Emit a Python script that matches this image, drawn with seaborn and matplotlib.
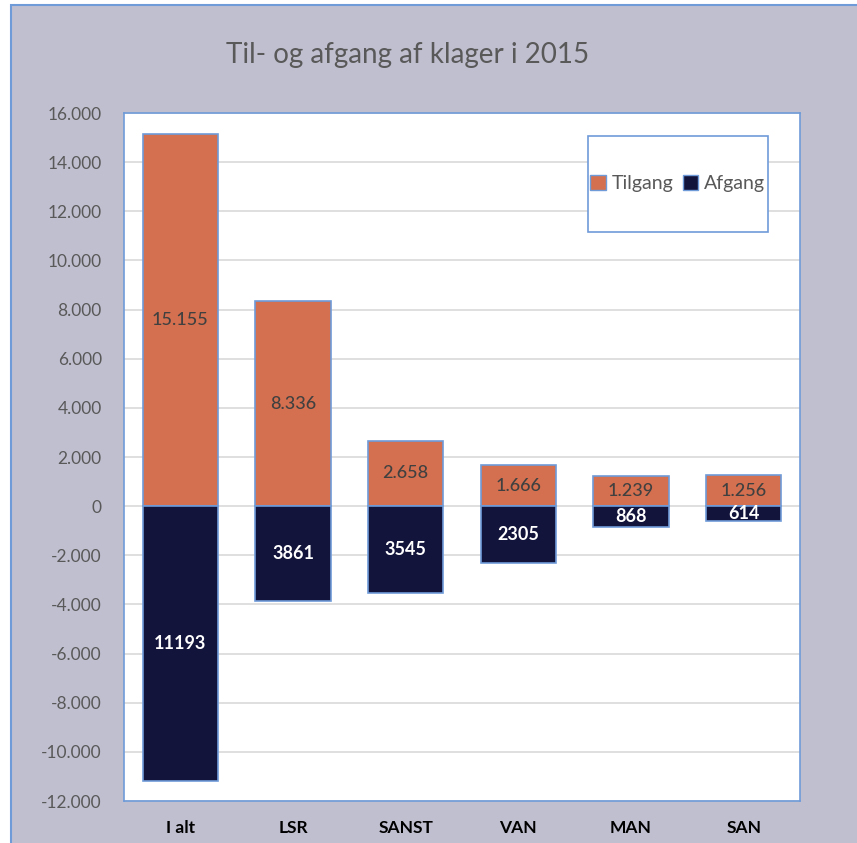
import pandas as pd
import matplotlib.pyplot as plt
import seaborn as sns
from matplotlib.patches import Rectangle
from matplotlib.ticker import FuncFormatter

# data
categories = ["I alt", "LSR", "SANST", "VAN", "MAN", "SAN"]
tilgang = [15155, 8336, 2658, 1666, 1239, 1256]
afgang = [11193, 3861, 3545, 2305, 868, 614]

ORANGE = "#d4704f"
NAVY = "#13143b"
EDGE = "#6f9bd8"
GREY_TXT = "#595959"

sns.set_theme(style="white")
plt.rcParams['font.family'] = ['Lato', 'DejaVu Sans']

df = pd.DataFrame({
    "kategori": categories * 2,
    "antal": tilgang + [-v for v in afgang],
    "type": ["Tilgang"] * len(categories) + ["Afgang"] * len(categories),
})

fig = plt.figure(figsize=(8.57, 8.43), dpi=100)
fig.patch.set_facecolor("white")
# grey chart frame (behind the axes)
fig.patches.append(Rectangle((11 / 857, -0.02), 1.05, 1 - 5 / 843 + 0.02,
                             transform=fig.transFigure, facecolor="#c0bfd0",
                             edgecolor=EDGE, linewidth=1.5, zorder=-5))

ax = fig.add_axes([124 / 857, 1 - 801 / 843, 676 / 857, 688 / 843])
ax.set_facecolor("white")

sns.barplot(data=df, x="kategori", y="antal", hue="type", dodge=False,
            palette={"Tilgang": ORANGE, "Afgang": NAVY}, width=0.67,
            saturation=1, edgecolor=EDGE, linewidth=1.2, ax=ax,
            legend=False, zorder=3)

ax.set_ylim(-12000, 16000)
ax.set_xlim(-0.5, 5.5)
ax.set_yticks(range(-12000, 16001, 2000))
ax.yaxis.set_major_formatter(FuncFormatter(lambda v, p: f"{int(v):,}".replace(",", ".")))
ax.grid(axis="y", color="#d9d9d9", linewidth=1.2, zorder=0)
ax.set_axisbelow(True)
for s in ax.spines.values():
    s.set_color(EDGE)
    s.set_linewidth(1.2)
ax.tick_params(axis="both", length=0)
ax.tick_params(axis="y", labelsize=12.5, labelcolor=GREY_TXT, pad=16)
ax.tick_params(axis="x", labelsize=12.5, pad=14)
for lbl in ax.get_xticklabels():
    lbl.set_fontweight("bold")
    lbl.set_color("black")
ax.set_xlabel("")
ax.set_ylabel("")

# value labels in the middle of each bar
for i, (t, a) in enumerate(zip(tilgang, afgang)):
    ax.text(i, t / 2, f"{t:,}".replace(",", "."), ha="center", va="center",
            fontsize=13, color="#404040", fontweight="medium", zorder=5)
    ax.text(i, -a / 2, str(a), ha="center", va="center",
            fontsize=13, color="white", fontweight="bold", zorder=5)

fig.text(408 / 857, 1 - 55 / 843, "Til- og afgang af klager i 2015",
         ha="center", va="center", fontsize=20, color=GREY_TXT)

# legend box
box = Rectangle((0.686, 0.827), 0.266, 0.1396, transform=ax.transAxes,
                facecolor="white", edgecolor=EDGE, linewidth=1.2, zorder=6)
ax.add_patch(box)
handles = [Rectangle((0, 0), 1, 1, facecolor=ORANGE, edgecolor=EDGE),
           Rectangle((0, 0), 1, 1, facecolor=NAVY, edgecolor=EDGE)]
leg = ax.legend(handles, ["Tilgang", "Afgang"], ncol=2, frameon=False,
                loc="center", bbox_to_anchor=(0.819, 0.897),
                fontsize=14, handlelength=0.8, handleheight=0.8,
                handletextpad=0.3, columnspacing=0.5, labelcolor=GREY_TXT)
leg.set_zorder(7)

fig.savefig("out.png", dpi=100)
